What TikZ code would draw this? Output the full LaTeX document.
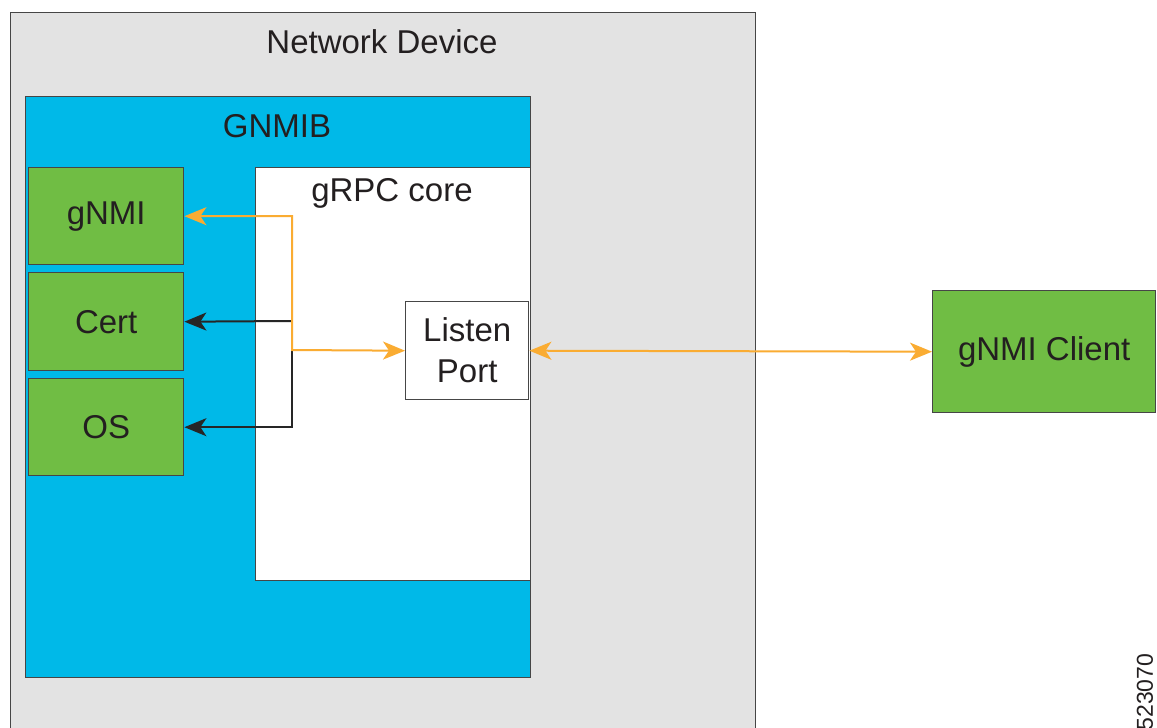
\documentclass[tikz,border=0pt]{standalone}
\usepackage{fontspec}
\setmainfont{Liberation Sans}
\usetikzlibrary{arrows.meta}
\definecolor{devgray}{RGB}{227,227,227}
\definecolor{gcyan}{RGB}{0,185,232}
\definecolor{ggreen}{RGB}{112,189,68}
\definecolor{gorange}{RGB}{250,172,50}
\definecolor{txt}{RGB}{35,31,32}
\definecolor{edge}{RGB}{70,70,70}
\tikzset{
  box/.style={draw=edge, line width=1.4pt, rectangle, inner sep=0pt, anchor=north west},
  lbl/.style={font=\fontsize{33}{41}\selectfont, text=txt, align=center},
  tipo/.tip={Stealth[length=22pt,width=18pt,inset=6pt]},
  oline/.style={draw=gorange, line width=2pt},
  bline/.style={draw=black!85, line width=2pt},
}
\begin{document}
\begin{tikzpicture}[x=1pt,y=-1pt]
\useasboundingbox (0,0) rectangle (1157,728);
\fill[white] (0,0) rectangle (1157,728);
\clip (0,0) rectangle (1157,728);
\node[box, fill=devgray, minimum width=745pt, minimum height=760pt] (dev) at (10,12) {};
\node[lbl] (devl) at (382,42) {Network Device};
\node[box, fill=gcyan, minimum width=505pt, minimum height=581pt] (gnmib) at (25,96) {};
\node[lbl] (gnmibl) at (277,126) {GNMIB};
\node[box, fill=white, minimum width=275pt, minimum height=413pt] (grpc) at (255,167) {};
\node[lbl] (grpcl) at (392,193) {gRPC core};
\node[box, fill=ggreen, minimum width=155pt, minimum height=97pt, lbl] (gnmi) at (28,167) {gNMI};
\node[box, fill=ggreen, minimum width=155pt, minimum height=98pt, lbl] (cert) at (28,272) {Cert};
\node[box, fill=ggreen, minimum width=155pt, minimum height=97pt, lbl] (os) at (28,378) {OS};
\node[box, fill=white, minimum width=123pt, minimum height=98pt, lbl] (listen) at (405,301) {Listen\\Port};
\node[box, fill=ggreen, minimum width=223pt, minimum height=122pt, lbl] (client) at (932,290) {gNMI Client};
\node[font=\fontsize{23}{23}\selectfont, text=txt, rotate=90] (num) at (1145,692) {523070};
\coordinate (jc) at (292,321);
\coordinate (jm) at (292,350);
\draw[bline, -tipo] (jc) -- (cert.east);
\draw[bline, -tipo] (jm) |- (os.east);
\draw[oline, tipo-tipo] (gnmi.east) -| (jm) -- (listen.west);
\draw[oline, tipo-tipo] (listen.east) -- (client.west);
\end{tikzpicture}
\end{document}
